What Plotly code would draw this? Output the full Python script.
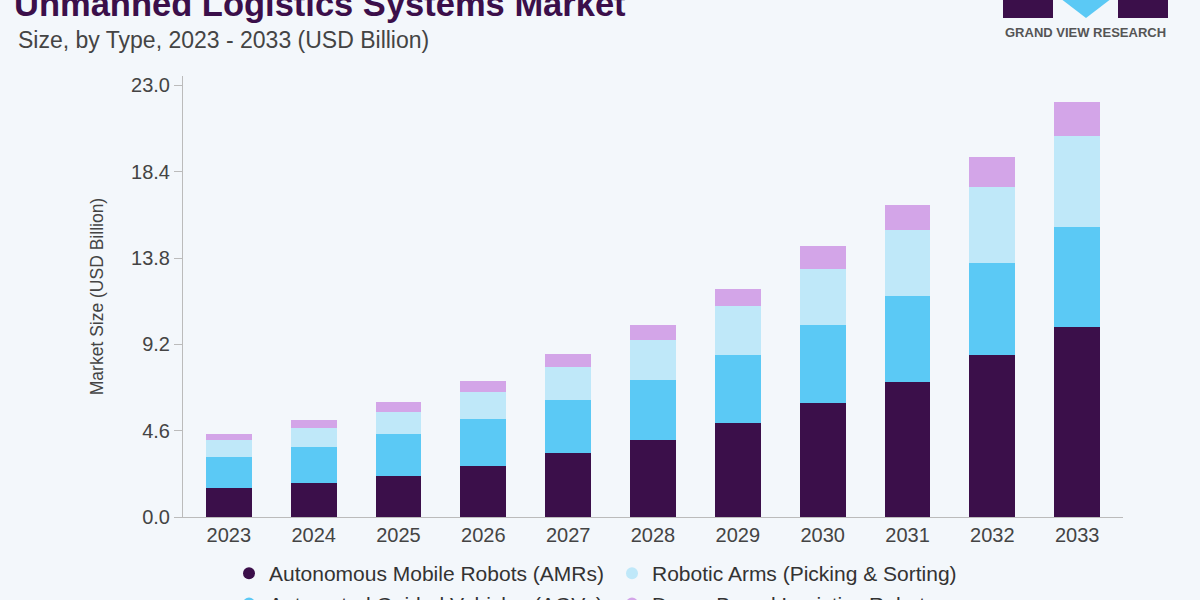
import plotly.graph_objects as go

years = ["2023", "2024", "2025", "2026", "2027", "2028", "2029", "2030", "2031", "2032", "2033"]
amr = [1.57, 1.83, 2.21, 2.74, 3.40, 4.11, 5.00, 6.07, 7.22, 8.63, 10.14]
agv = [1.65, 1.92, 2.20, 2.49, 2.85, 3.20, 3.65, 4.14, 4.54, 4.88, 5.34]
robotic_arms = [0.89, 0.98, 1.18, 1.43, 1.77, 2.14, 2.58, 3.01, 3.53, 4.09, 4.81]
drone = [0.32, 0.45, 0.53, 0.60, 0.68, 0.80, 0.93, 1.21, 1.35, 1.58, 1.85]
label_years = ["2025", "2026", "2033"]
label_texts = ["6.1", "7.3", "22.2"]
y_ticks = [0.0, 4.6, 9.2, 13.8, 18.4, 23.0]

series = [
    ("Autonomous Mobile Robots (AMRs)", amr, "#3b0f4a"),
    ("Automated Guided Vehicles (AGVs)", agv, "#5bc9f5"),
    ("Robotic Arms (Picking & Sorting)", robotic_arms, "#bfe8f9"),
    ("Drone-Based Logistics Robots", drone, "#d3a5e8"),
]

W, H = 1200, 600
L, R, T, B = 183, 77, 76, 83
PW, PH = W - L - R, H - T - B

def px(x):
    return (x - L) / PW

def py(y):
    return (H - B - y) / PH

fig = go.Figure()
for name, vals, col in series:
    fig.add_trace(go.Bar(x=years, y=vals, name=name, marker=dict(color=col, line=dict(width=0)),
                         showlegend=False, hoverinfo="y"))

legend_order = [0, 2, 1, 3]
for i in legend_order:
    name, vals, col = series[i]
    fig.add_trace(go.Scatter(x=[None], y=[None], mode="markers", name=name,
                             marker=dict(color=col, size=15, symbol="circle"), showlegend=True))

totals = {y: a + b + c + d for y, a, b, c, d in zip(years, amr, agv, robotic_arms, drone)}
annotations = []
for yr, txt in zip(label_years, label_texts):
    annotations.append(dict(x=yr, y=totals[yr], text=txt, showarrow=False, yanchor="bottom", yshift=5,
                            font=dict(size=20, color="#333333", family="Liberation Sans")))

annotations.append(dict(xref="paper", yref="paper", x=px(12), y=py(18), xanchor="left", yanchor="bottom",
                        text="<b>Unmanned Logistics Systems Market</b>", showarrow=False, yshift=-7,
                        font=dict(size=34.5, color="#3b0f4a", family="Liberation Sans")))
annotations.append(dict(xref="paper", yref="paper", x=px(16), y=py(40), xanchor="left", yanchor="middle",
                        text="Size, by Type, 2023 - 2033 (USD Billion)", showarrow=False,
                        font=dict(size=23, color="#444444", family="Liberation Sans")))
annotations.append(dict(xref="paper", yref="paper", x=px(1085), y=py(33), xanchor="center", yanchor="middle",
                        text="<b>GRAND VIEW RESEARCH</b>", showarrow=False,
                        font=dict(size=13, color="#555555", family="Liberation Sans")))

shapes = [
    dict(type="rect", xref="paper", yref="paper", x0=px(1003), x1=px(1053), y0=py(18), y1=py(-5),
         fillcolor="#3b0f4a", line=dict(width=0)),
    dict(type="rect", xref="paper", yref="paper", x0=px(1118), x1=px(1168), y0=py(18), y1=py(-5),
         fillcolor="#3b0f4a", line=dict(width=0)),
    dict(type="path", xref="paper", yref="paper",
         path=f"M {px(1056)} {py(-5)} L {px(1116)} {py(-5)} L {px(1086)} {py(18)} Z",
         fillcolor="#5bc9f5", line=dict(width=0)),
]

fig.update_layout(
    width=W, height=H,
    margin=dict(l=L, r=R, t=T, b=B, autoexpand=False),
    paper_bgcolor="#f3f7fb", plot_bgcolor="#f3f7fb",
    barmode="stack", bargap=0.46,
    font=dict(family="Liberation Sans", color="#444444"),
    xaxis=dict(type="category", showline=True, linecolor="#bbbbbb", linewidth=1, ticks="",
               tickfont=dict(size=20, color="#444444"), showgrid=False, range=[-0.54, 10.54]),
    yaxis=dict(range=[0, 23.5], tickvals=y_ticks, tickformat=".1f", showgrid=False, zeroline=False,
               showline=True, linecolor="#bbbbbb", linewidth=1, ticks="outside", ticklen=8,
               tickcolor="#bbbbbb", tickfont=dict(size=20, color="#444444"),
               title=dict(text="Market Size (USD Billion)", font=dict(size=17.5, color="#444444"), standoff=22)),
    legend=dict(orientation="h", x=px(229), xanchor="left", y=py(553), yanchor="top",
                entrywidth=338, entrywidthmode="pixels", font=dict(size=21, color="#333333"),
                bgcolor="rgba(0,0,0,0)", itemsizing="constant", tracegroupgap=0, traceorder="normal"),
    annotations=annotations,
    shapes=shapes,
)

fig.write_html("out.html")
